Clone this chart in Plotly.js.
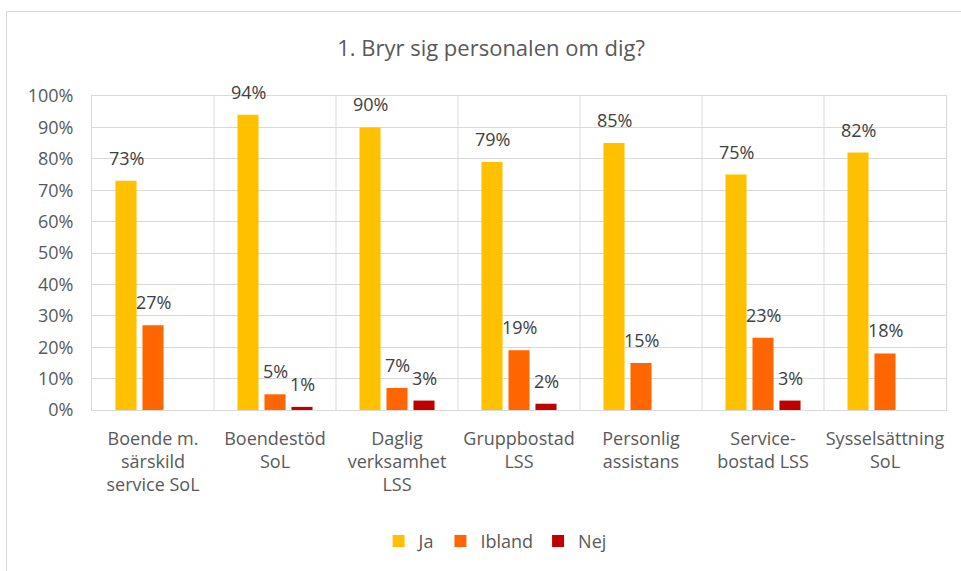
<!DOCTYPE html>
<html>
<head>
<meta charset="utf-8">
<script src="https://cdn.plot.ly/plotly-3.0.1.min.js"></script>
<style>
  html, body { margin: 0; padding: 0; background: #fff; }
  #wrap { position: relative; width: 961px; height: 571px; overflow: hidden; }
  #chart { width: 961px; height: 571px; }
  #frame { position: absolute; left: 6px; top: 11px; width: 1200px; height: 1200px;
           border-left: 1.5px solid #d9d9d9; border-top: 1.5px solid #d9d9d9; pointer-events: none; }
</style>
</head>
<body>
<div id="wrap">
  <div id="chart"></div>
  <div id="frame"></div>
</div>
<script>
const categories = [
  "Boende m.<br>särskild<br>service SoL",
  "Boendestöd<br>SoL",
  "Daglig<br>verksamhet<br>LSS",
  "Gruppbostad<br>LSS",
  "Personlig<br>assistans",
  "Service-<br>bostad LSS",
  "Sysselsättning<br>SoL"
];
const seriesNames = ["Ja", "Ibland", "Nej"];
const ja     = [73, 94, 90, 79, 85, 75, 82];
const ibland = [27, 5, 7, 19, 15, 23, 18];
const nej    = [null, 1, 3, 2, null, 3, null];
const colors = ["#FFC000", "#FF6600", "#C00000"];

const series = [ja, ibland, nej];
const FONT = '"Open Sans", "Noto Sans", sans-serif';
const bargap = 0.336;
const slot = (1 - bargap) / series.length;

const traces = series.map((vals, j) => ({
  type: 'bar',
  name: seriesNames[j],
  x: categories.map((c, i) => i),
  y: vals,
  marker: { color: colors[j] },
  hoverinfo: 'skip'
}));

const annotations = [];
series.forEach((vals, j) => {
  vals.forEach((v, i) => {
    if (v === null || v === undefined) return;
    annotations.push({
      x: i + (j - (series.length - 1) / 2) * slot,
      y: v,
      xref: 'x', yref: 'y',
      text: v + '%',
      showarrow: false,
      xanchor: 'center', yanchor: 'middle',
      yshift: 23,
      font: { family: FONT, size: 18, color: '#404040' }
    });
  });
});

const layout = {
  width: 961, height: 571,
  margin: { l: 92, r: 15, t: 96, b: 160 },
  paper_bgcolor: '#fff', plot_bgcolor: '#fff',
  font: { family: FONT, size: 18, color: '#595959' },
  title: { text: '1. Bryr sig personalen om dig?', font: { family: FONT, size: 22, color: '#595959' },
           x: 0.511, xanchor: 'center', y: 0.916, yanchor: 'middle', xref: 'container', yref: 'container' },
  barmode: 'group',
  bargap: bargap,
  bargroupgap: 0.22,
  showlegend: true,
  legend: { orientation: 'h', x: 0.472, xanchor: 'center', y: -0.414, yanchor: 'middle',
            font: { family: FONT, size: 18, color: '#595959' }, itemwidth: 30, tracegroupgap: 0 },
  xaxis: {
    type: 'linear',
    tickmode: 'array',
    tickvals: categories.map((c, i) => i),
    ticktext: categories,
    range: [-0.5, categories.length - 0.5],
    showgrid: false,
    showline: true, mirror: true, linecolor: '#d9d9d9', linewidth: 1,
    ticks: '', zeroline: false,
    tickfont: { family: FONT, size: 18, color: '#595959' },
    ticklabelstandoff: 12
  },
  yaxis: {
    range: [0, 100],
    tickmode: 'linear', tick0: 0, dtick: 10,
    ticksuffix: '%',
    showgrid: true, gridcolor: '#d9d9d9', gridwidth: 1,
    showline: true, mirror: true, linecolor: '#d9d9d9', linewidth: 1,
    zeroline: false, ticks: '',
    tickfont: { family: FONT, size: 18, color: '#595959' },
    ticklabelstandoff: 14
  },
  shapes: categories.slice(1).map((c, i) => ({
    type: 'line', xref: 'x', yref: 'paper', x0: i + 0.5, x1: i + 0.5, y0: 0, y1: 1,
    line: { color: '#d9d9d9', width: 1 }, layer: 'below'
  })),
  annotations: annotations
};

Plotly.newPlot('chart', traces, layout, { displayModeBar: false, staticPlot: true });
</script>
</body>
</html>
